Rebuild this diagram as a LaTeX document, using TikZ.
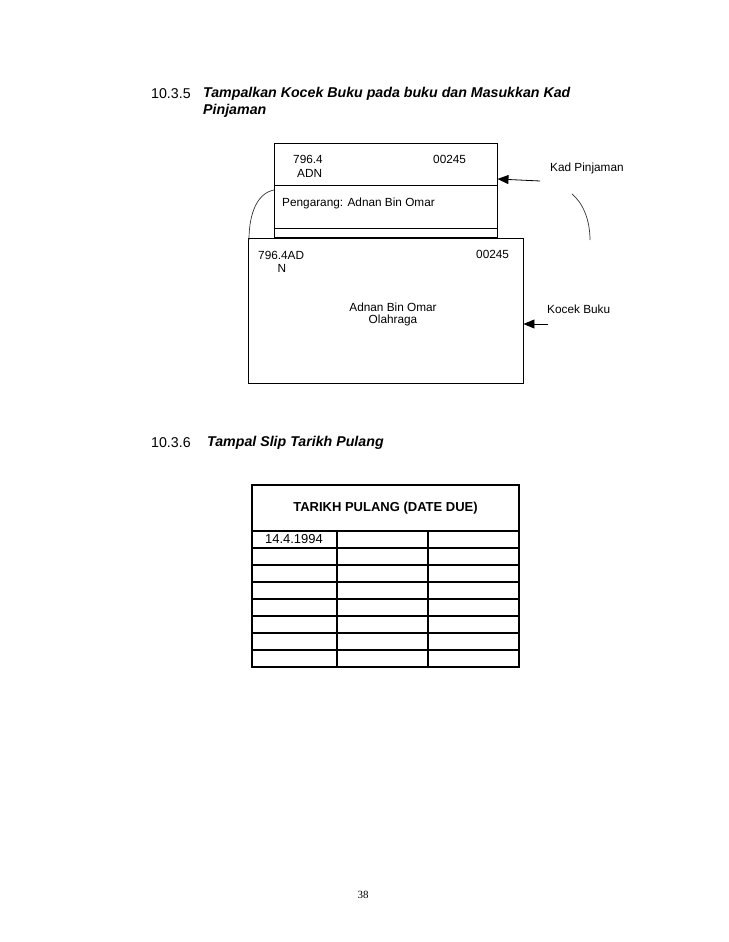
\documentclass[tikz,border=0pt]{standalone}
\usepackage{fontspec}
\setmainfont{Liberation Sans}
\newfontfamily\serifpn{Liberation Serif}
\usetikzlibrary{arrows.meta}
\begin{document}
\begin{tikzpicture}[x=1pt,y=-1pt,
  box/.style={draw,line width=0.9pt},
  small/.style={font=\fontsize{11.8}{13}\selectfont,inner sep=0pt},
  head/.style={font=\fontsize{14.2}{16}\selectfont,inner sep=0pt,anchor=west},
  tline/.style={line width=1.3pt},
  ptr/.style={-{Triangle[length=11pt,width=9pt]},line width=0.8pt},
  curve/.style={line width=0.7pt,draw=black!80}]
\useasboundingbox[fill=white] (0,0) rectangle (728,942);
% headings
\node[head] (h1n) at (151,94) {10.3.5};
\node[head] (h1a) at (203,94) {\bfseries\itshape Tampalkan Kocek Buku pada buku dan Masukkan Kad};
\node[head] (h1b) at (203,111) {\bfseries\itshape Pinjaman};
\node[head] (h2n) at (151,443) {10.3.6};
\node[head] (h2a) at (207,443) {\bfseries\itshape Tampal Slip Tarikh Pulang};
% card
\node[box,minimum width=223pt,minimum height=94pt,inner sep=0pt] (card) at (385.5,190) {};
\draw[line width=0.9pt] (274,185) -- (497,185);
\draw[line width=0.9pt] (274,228) -- (497,228);
\node[small,anchor=west] (c1) at (293,159) {796.4};
\node[small,anchor=west] (c2) at (297,173) {ADN};
\node[small,anchor=west] (c3) at (433,159) {00245};
\node[small,anchor=west] (c4) at (282,203) {Pengarang: Adnan Bin Omar};
% pocket
\node[box,fill=white,minimum width=275pt,minimum height=145pt,inner sep=0pt] (pocket) at (385.5,310.5) {};
\node[small,anchor=west] (p1) at (258,255) {796.4AD};
\node[small] (p2) at (282,268) {N};
\node[small,anchor=west] (p3) at (476,254) {00245};
\node[small] (p4) at (393,307) {Adnan Bin Omar};
\node[small] (p5) at (393,320) {Olahraga};
% labels and arrows
\node[small,anchor=west] (kad) at (550,168) {Kad Pinjaman};
\node[small,anchor=west] (kocek) at (547,309) {Kocek Buku};
\coordinate (kadtail) at (540,181);
\coordinate (kocektail) at (548,324);
\draw[ptr] (kadtail) -- (card.east |- 0,179);
\draw[ptr] (kocektail) -- (pocket.east |- kocektail);
% curves
\coordinate (lc1) at (274,190);
\coordinate (lc2) at (249,240);
\coordinate (rc1) at (572,194);
\coordinate (rc2) at (590,240);
\draw[curve] (lc1) .. controls (258,193) and (249,212) .. (lc2);
\draw[curve] (rc1) .. controls (583,203) and (590,220) .. (rc2);
% table
\node[draw,tline,minimum width=267pt,minimum height=46pt,inner sep=0pt,
  font=\fontsize{13}{15}\selectfont\bfseries] (thead) at (385.5,508) {TARIKH PULANG (DATE DUE)};
\draw[tline] (252,531) rectangle (519,667);
\foreach \y in {548,565,582,599,616,633,650} \draw[tline] (252,\y) -- (519,\y);
\draw[tline] (337,531) -- (337,667);
\draw[tline] (428,531) -- (428,667);
\node[inner sep=0pt,font=\fontsize{13}{15}\selectfont] (d1) at (294,539.5) {14.4.1994};
% page number
\node[inner sep=0pt,font=\serifpn\fontsize{11}{13}\selectfont] (pg) at (363,895) {38};
\end{tikzpicture}
\end{document}
